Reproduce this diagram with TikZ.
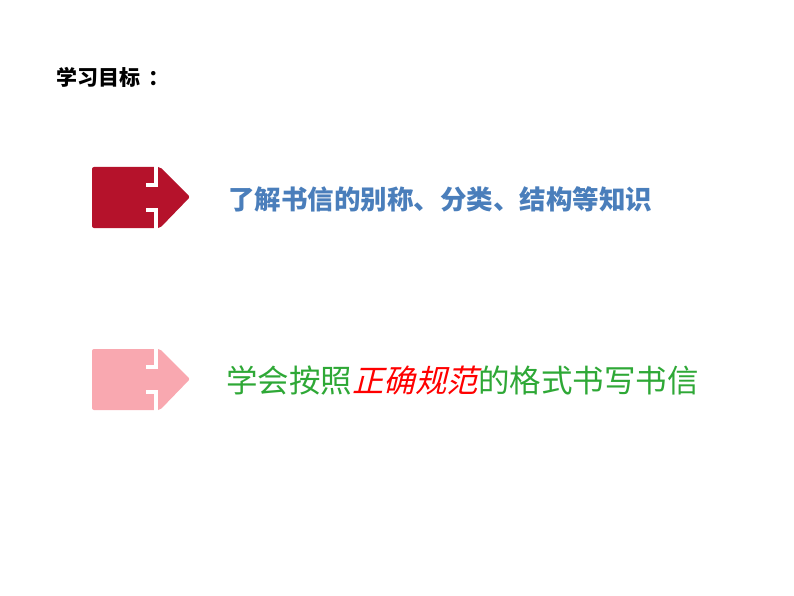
\documentclass[tikz,border=0pt]{standalone}
\usepackage{fontspec}
\newfontfamily\cjk{Noto Sans CJK SC}
\newfontfamily\cjksl{Noto Sans CJK SC}[FakeSlant=0.25]
\begin{document}
\begin{tikzpicture}[x=1pt,y=-1pt,
  arrowshape/.style={rounded corners=2pt},
  cut/.style={draw=white,line width=3.5pt}]
\fill[white] (0,0) rectangle (794,596);
\useasboundingbox (0,0) rectangle (794,596);
\definecolor{dred}{HTML}{B5122B}
\definecolor{pinkc}{HTML}{F9A8B0}
\definecolor{bluet}{HTML}{4A7EBB}
\definecolor{greent}{HTML}{2EA836}
\node[anchor=west,inner sep=0] (title) at (56,77) {\cjk\bfseries\fontsize{21}{24}\selectfont 学习目标\hspace{8pt}：};
\foreach \y/\c/\n in {167/dred/a1,349/pinkc/a2}{
  \fill[\c,arrowshape] (92,\y) -- (160,\y) -- (190,\y+30) -- (160,\y+61) -- (92,\y+61) -- cycle;
  \draw[cut] (156,\y-1) -- (156,\y+18) -- (146,\y+18);
  \draw[cut] (156,\y+62) -- (156,\y+43) -- (146,\y+43);
  \coordinate (\n) at (190,\y+30);
}
\node[anchor=west,inner sep=0,text=bluet] (t1) at (228,199) {\cjk\bfseries\fontsize{26.5}{30}\selectfont 了解书信的别称、分类、结构等知识};
\node[anchor=west,inner sep=0,text=greent] (t2) at (226,380) {\cjk\fontsize{31.5}{36}\selectfont 学会按照{\cjksl\color{red}正确规范}的格式书写书信};
\end{tikzpicture}
\end{document}
